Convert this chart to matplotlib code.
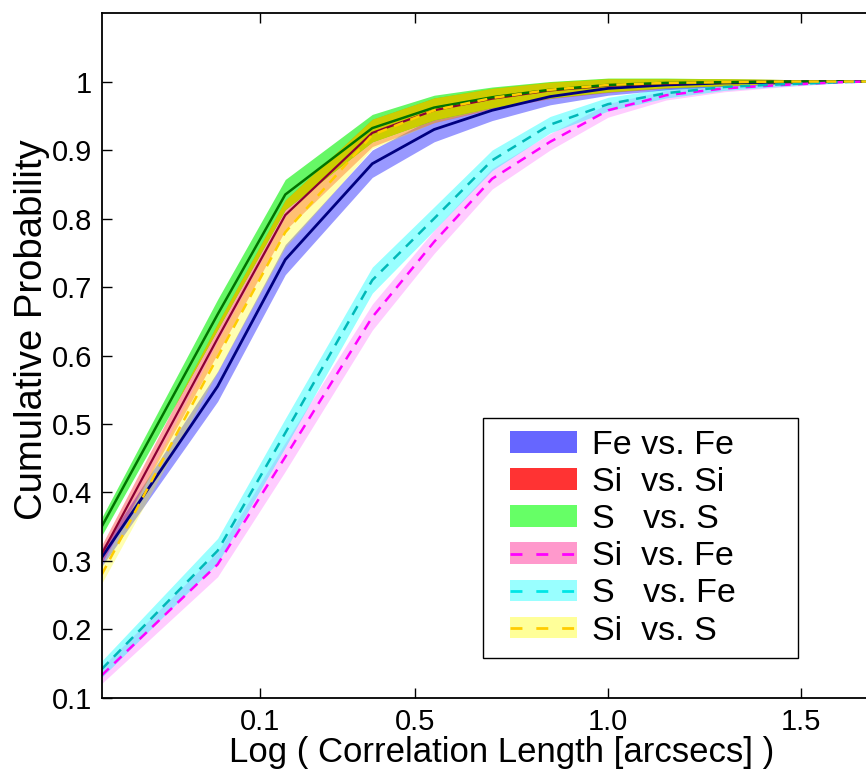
import matplotlib
matplotlib.use('Agg')
import matplotlib.pyplot as plt
from matplotlib.patches import Patch
from matplotlib.lines import Line2D
from matplotlib.legend_handler import HandlerPatch, HandlerLine2D

plt.rcParams['font.family'] = ['Liberation Sans', 'DejaVu Sans']

# log correlation length
x_log = [-0.31, -0.01, 0.165, 0.39, 0.55, 0.70, 0.85, 1.00, 1.15, 1.30, 1.45, 1.60, 1.67]

# mean cumulative probability per pair
fe_fe = [0.305, 0.555, 0.740, 0.880, 0.930, 0.958, 0.978, 0.990, 0.995, 0.998, 0.999, 1.0, 1.0]
si_si = [0.310, 0.625, 0.805, 0.925, 0.958, 0.975, 0.987, 0.994, 0.997, 0.999, 1.0, 1.0, 1.0]
s_s = [0.350, 0.660, 0.835, 0.932, 0.962, 0.977, 0.988, 0.995, 0.998, 0.999, 1.0, 1.0, 1.0]
si_fe = [0.133, 0.295, 0.452, 0.656, 0.766, 0.858, 0.912, 0.958, 0.980, 0.990, 0.995, 0.999, 1.0]
s_fe = [0.142, 0.315, 0.487, 0.710, 0.800, 0.885, 0.937, 0.967, 0.983, 0.992, 0.996, 0.999, 1.0]
si_s = [0.280, 0.598, 0.780, 0.922, 0.958, 0.976, 0.988, 0.995, 0.998, 0.999, 1.0, 1.0, 1.0]

# half width of the shaded spread
spread_same = [0.013, 0.022, 0.022, 0.020, 0.018, 0.015, 0.012, 0.010, 0.007, 0.005, 0.003, 0.001, 0.0]
spread_cross = [0.012, 0.018, 0.021, 0.019, 0.017, 0.015, 0.012, 0.010, 0.007, 0.005, 0.003, 0.001, 0.0]

labels = ['Fe vs. Fe', 'Si  vs. Si', 'S   vs. S', 'Si  vs. Fe', 'S   vs. Fe', 'Si  vs. S']

x_ticks = [0.1, 0.5, 1.0, 1.5]
x_tick_labels = ['0.1', '0.5', '1.0', '1.5']
y_ticks = [0.1, 0.2, 0.3, 0.4, 0.5, 0.6, 0.7, 0.8, 0.9, 1.0]
y_tick_labels = ['0.1', '0.2', '0.3', '0.4', '0.5', '0.6', '0.7', '0.8', '0.9', '1']


def lims(y, s):
    return [a - b for a, b in zip(y, s)], [a + b for a, b in zip(y, s)]


def band(ax, y, s, color, alpha):
    lo, hi = lims(y, s)
    ax.fill_between(x_log, lo, hi, color=color, alpha=alpha, linewidth=0)


# legend handles sit a bit in from the frame, like the original
INSET = 11


class InsetPatch(HandlerPatch):
    def create_artists(self, legend, orig_handle, xdescent, ydescent,
                       width, height, fontsize, trans):
        return super().create_artists(legend, orig_handle, xdescent - INSET,
                                      ydescent, width - INSET, height,
                                      fontsize, trans)


class InsetLine(HandlerLine2D):
    def create_artists(self, legend, orig_handle, xdescent, ydescent,
                       width, height, fontsize, trans):
        return super().create_artists(legend, orig_handle, xdescent - INSET,
                                      ydescent, width - INSET, height,
                                      fontsize, trans)


fig = plt.figure(figsize=(8.66, 7.71), dpi=100)
ax = fig.add_axes([0.1178, 0.0947, 0.8822, 0.8884])

# bands
band(ax, si_fe, spread_cross, (1, 0, 1), 0.2)
band(ax, s_fe, spread_cross, (0, 1, 1), 0.4)
band(ax, fe_fe, spread_same, (0, 0, 1), 0.4)
band(ax, si_si, spread_same, (1, 0, 0), 0.35)
band(ax, si_s, spread_same, (1, 1, 0), 0.3)
band(ax, s_s, spread_same, (0, 0.95, 0), 0.6)

# where the S/S and Si/Si spreads overlap the colours mix to olive
lo_a, hi_a = lims(s_s, spread_same)
lo_b, hi_b = lims(si_si, spread_same)
ov_lo = [max(a, b) for a, b in zip(lo_a, lo_b)]
ov_hi = [min(a, b) for a, b in zip(hi_a, hi_b)]
ax.fill_between(x_log, ov_lo, ov_hi, where=[h > l for l, h in zip(ov_lo, ov_hi)],
                interpolate=True, color=(0.8, 0.8, 0.0), linewidth=0)

# mean lines
ax.plot(x_log, fe_fe, color=(0, 0, 0.5), lw=2)
ax.plot(x_log, si_si, color=(0.55, 0, 0.2), lw=1.6)
ax.plot(x_log, s_s, color=(0, 0.45, 0), lw=1.8)
ax.plot(x_log, si_fe, color=(1, 0, 1), lw=1.8, dashes=(4, 3))
ax.plot(x_log, s_fe, color=(0, 0.72, 0.72), lw=1.8, dashes=(4, 3))
ax.plot(x_log, si_s, color=(1, 0.8, 0), lw=1.8, dashes=(4, 3))

ax.set_xlim(-0.309, 1.667)
ax.set_ylim(0.1, 1.1)
ax.set_xticks(x_ticks)
ax.set_xticklabels(x_tick_labels)
ax.set_yticks(y_ticks)
ax.set_yticklabels(y_tick_labels)
ax.tick_params(direction='in', length=7, width=1, labelsize=21, pad=7,
               top=True, right=False)
ax.spines['right'].set_visible(False)
for s in ['left', 'top', 'bottom']:
    ax.spines[s].set_linewidth(1.3)

ax.set_xlabel('Log ( Correlation Length [arcsecs] )', fontsize=25)
ax.xaxis.set_label_coords(0.5236, -0.055)
ax.set_ylabel('Cumulative Probability', fontsize=27.5)
ax.yaxis.set_label_coords(-0.068, 0.537)

handles = [
    Patch(facecolor=(0.4, 0.4, 1), edgecolor='none'),
    Patch(facecolor=(1, 0.2, 0.2), edgecolor='none'),
    Patch(facecolor=(0.4, 1, 0.4), edgecolor='none'),
    (Patch(facecolor=(1, 0.6, 0.8), edgecolor='none'),
     Line2D([], [], color=(1, 0, 1), lw=2, dashes=(4.3, 5))),
    (Patch(facecolor=(0.6, 1, 1), edgecolor='none'),
     Line2D([], [], color=(0, 0.9, 0.9), lw=2, dashes=(4.3, 5))),
    (Patch(facecolor=(1, 1, 0.6), edgecolor='none'),
     Line2D([], [], color=(1, 0.8, 0), lw=2, dashes=(4.3, 5))),
]
leg = fig.legend(handles, labels, loc='upper left',
                 bbox_to_anchor=(483 / 866, 1 - 418 / 771, 315 / 866, 0.0),
                 bbox_transform=fig.transFigure, mode='expand',
                 handler_map={Patch: InsetPatch(), Line2D: InsetLine()},
                 fontsize=24.5, frameon=True, fancybox=False, framealpha=1,
                 edgecolor='black', borderpad=0.35, labelspacing=0.18,
                 handlelength=2.4, handleheight=0.6, handletextpad=0.45,
                 borderaxespad=0)
leg.get_frame().set_linewidth(1.0)

fig.savefig('out.png', dpi=100)
plt.close()
